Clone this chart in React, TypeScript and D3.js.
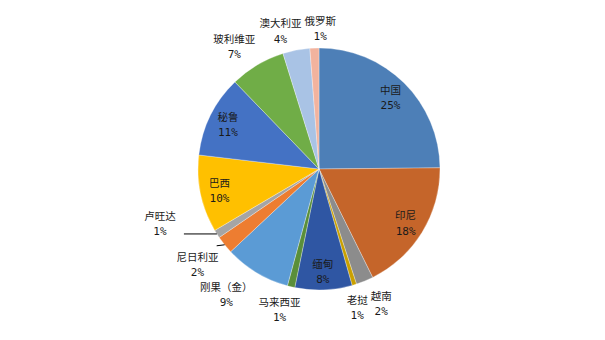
import React from 'react'
import * as d3 from 'd3'

// share of world output by country, clockwise from 12 o'clock
const countries = ['中国', '印尼', '越南', '老挝', '缅甸', '马来西亚', '刚果（金）', '尼日利亚', '卢旺达', '巴西', '秘鲁', '玻利维亚', '澳大利亚', '俄罗斯']
const shares = [24.8, 17.8, 2.3, 0.6, 7.6, 1.0, 8.8, 2.4, 1.1, 10.3, 10.9, 7.4, 3.6, 1.2]
const colors = ['#4D7FB7', '#C5652A', '#8C8C8C', '#C9A000', '#2F56A3', '#5A8F3A', '#5B9BD5', '#ED7D31', '#A5A5A5', '#FFC000', '#4472C4', '#70AD47', '#A9C3E5', '#F2B39E']
// which labels sit inside their slice, and which need a leader line
const insideLabels = ['中国', '印尼', '缅甸', '巴西', '秘鲁']
const leaderLabels = ['卢旺达', '尼日利亚']

const W = 605
const H = 340
const cx = 319
const cy = 169
const R = 121
const FS = 10.5
const LINE = 15
const cjk = '"Noto Sans CJK SC", "Noto Sans", sans-serif'
const mono = '"DejaVu Sans Mono", monospace'

type Lbl = { name: string; pct: string; x: number; y: number; w: number; leader?: [number, number, number, number] }

const App = () => {
  const data = countries.map((c, i) => ({ name: c, value: shares[i], color: colors[i] }))
  const total = d3.sum(shares)
  const pie = d3.pie<any>().value((d) => d.value).sort(null)
  const arcs = pie(data)
  const arc = d3.arc<any>().innerRadius(0).outerRadius(R)

  const labels: Lbl[] = arcs.map((a) => {
    const name = a.data.name
    const pct = `${Math.round((a.data.value / total) * 100)}%`
    const mid = (a.startAngle + a.endAngle) / 2
    const ux = Math.sin(mid)
    const uy = -Math.cos(mid)
    const w = name.length * FS
    if (insideLabels.includes(name)) {
      const r = R * 0.84
      return { name, pct, x: cx + ux * r, y: cy + uy * r + 1, w }
    }
    const ax = cx + ux * R
    const ay = cy + uy * R
    if (name === '卢旺达') {
      const ex = ax - 33
      return { name, pct, x: ex - 24, y: ay - 10, w, leader: [ax, ay, ex, ay] }
    }
    const clamp = (v: number) => Math.max(-1, Math.min(1, v * 2))
    const r = uy > 0 ? R + 8 : R + 4
    const x = cx + ux * r + (clamp(ux) * w) / 2
    const y = cy + uy * r + (Math.max(-1, Math.min(1, uy * 2.5)) * 30) / 2
    const l: Lbl = { name, pct, x, y, w }
    if (leaderLabels.includes(name)) l.leader = [ax, ay, ax - 8, ay + 1]
    return l
  })

  // nudge overlapping outside labels apart horizontally
  for (let i = 0; i < labels.length; i++) {
    const j = (i + 1) % labels.length
    const a = labels[i]
    const b = labels[j]
    if (insideLabels.includes(a.name) || insideLabels.includes(b.name)) continue
    if (a.name === '卢旺达' || b.name === '卢旺达') continue
    if (Math.abs(a.y - b.y) > 25) continue
    const left = a.x < b.x ? a : b
    const right = a.x < b.x ? b : a
    const overlap = left.x + left.w / 2 - (right.x - right.w / 2) + 3
    if (overlap > 0) {
      left.x -= overlap / 2
      right.x += overlap / 2
    }
  }

  return (
    <svg width={W} height={H} style={{ position: 'absolute', left: 0, top: 0, background: '#fff' }}>
      <g transform={`translate(${cx},${cy})`}>
        {arcs.map((a, i) => (
          <path key={i} d={arc(a) as string} fill={a.data.color} stroke="#ffffff" strokeOpacity={0.6} strokeWidth={0.5} />
        ))}
      </g>
      {labels.map((l, i) => (
        <g key={i} fill="#1a1a1a" textAnchor="middle">
          {l.leader && (
            <line x1={l.leader[0]} y1={l.leader[1]} x2={l.leader[2]} y2={l.leader[3]} stroke="#000" strokeWidth={1} />
          )}
          <text x={l.x} y={l.y - LINE / 2} dy="0.35em" fontFamily={cjk} fontSize={FS}>
            {l.name}
          </text>
          <text x={l.x} y={l.y + LINE / 2} dy="0.35em" fontFamily={mono} fontSize={11}>
            {l.pct}
          </text>
        </g>
      ))}
    </svg>
  )
}

export default App
